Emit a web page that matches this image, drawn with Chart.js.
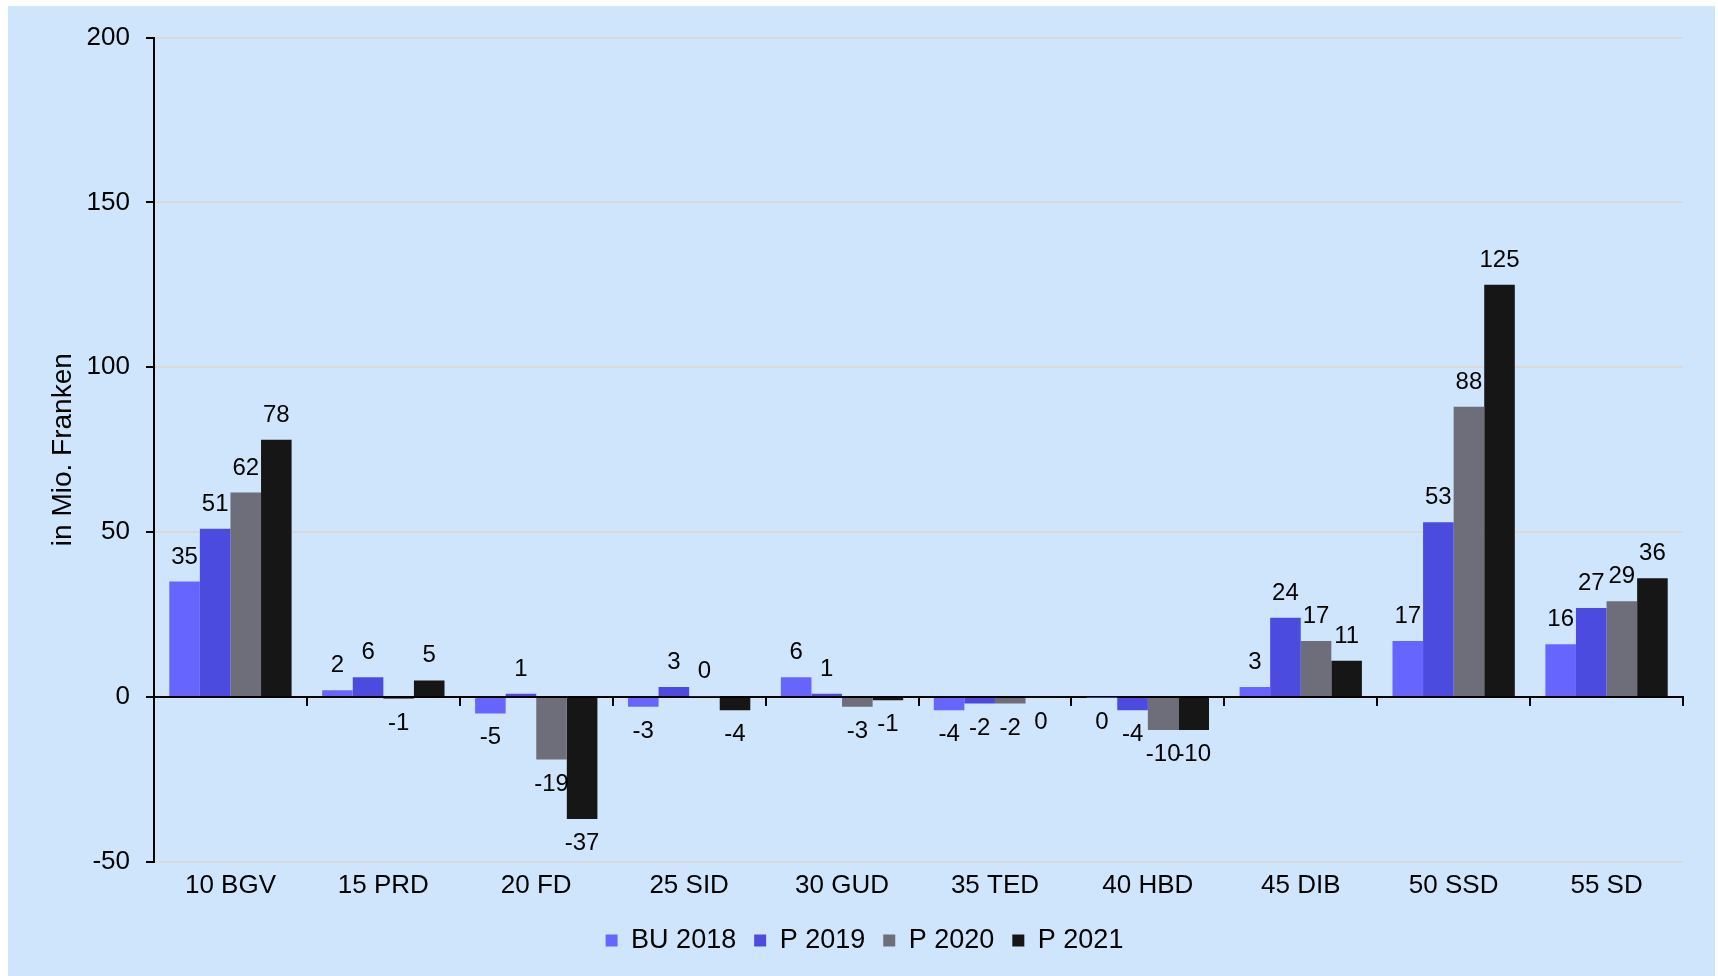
<!DOCTYPE html>
<html>
<head>
<meta charset="utf-8">
<script src="https://cdn.jsdelivr.net/npm/chart.js@4/dist/chart.umd.min.js"></script>
<style>
  html, body { margin: 0; padding: 0; background: #fff; }
  #wrap { position: absolute; left: 8px; top: 6px; width: 1707px; height: 970px; background: #cfe5fc; }
</style>
</head>
<body>
<div id="wrap"><canvas id="budgetChart"></canvas></div>
<script>
// departments on the x axis
const departments = ['10 BGV', '15 PRD', '20 FD', '25 SID', '30 GUD', '35 TED', '40 HBD', '45 DIB', '50 SSD', '55 SD'];

// values in Mio. Franken (tiny values keep the label side as in the picture)
const bu2018 = [35, 2, -5, -3, 6, -4, -0.2, 3, 17, 16];
const p2019  = [51, 6, 1, 3, 1, -2, -4, 24, 53, 27];
const p2020  = [62, -0.6, -19, 0.2, -3, -2, -10, 17, 88, 29];
const p2021  = [78, 5, -37, -4, -1, -0.2, -10, 11, 125, 36];

const yTicks = [-50, 0, 50, 100, 150, 200];

Chart.defaults.font.family = '"Liberation Sans", Arial, sans-serif';
Chart.defaults.color = '#000';

// draws the value above positive bars and below negative ones
const barValueLabels = {
  id: 'barValueLabels',
  afterDatasetsDraw(chart) {
    const ctx = chart.ctx;
    ctx.save();
    ctx.font = '24px "Liberation Sans", Arial, sans-serif';
    ctx.fillStyle = '#000';
    ctx.textAlign = 'center';
    ctx.textBaseline = 'alphabetic';
    chart.data.datasets.forEach((ds, i) => {
      const meta = chart.getDatasetMeta(i);
      meta.data.forEach((bar, j) => {
        const v = ds.data[j];
        const y = v > 0 ? bar.y - 18 : bar.y + 31;
        ctx.fillText(String(Math.round(v)), bar.x, y);
      });
    });
    ctx.restore();
  }
};

const ctx = document.getElementById('budgetChart').getContext('2d');
const chart = new Chart(ctx, {
  type: 'bar',
  data: {
    labels: departments,
    datasets: [
      { label: 'BU 2018', data: bu2018, backgroundColor: '#6666ff' },
      { label: 'P 2019', data: p2019, backgroundColor: '#4b4be0' },
      { label: 'P 2020', data: p2020, backgroundColor: '#6e6e7a' },
      { label: 'P 2021', data: p2021, backgroundColor: '#161616' }
    ]
  },
  options: {
    responsive: true,
    maintainAspectRatio: false,
    animation: false,
    layout: { padding: { top: 20, right: 32, bottom: 12, left: 38 } },
    datasets: { bar: { categoryPercentage: 0.8, barPercentage: 1.0 } },
    scales: {
      x: {
        offset: true,
        ticks: { font: { size: 26 }, color: '#000', padding: 8 },
        grid: { display: false, drawTicks: false },
        border: { display: false }
      },
      xZero: {
        type: 'category',
        position: { y: 0 },
        offset: true,
        ticks: { display: false },
        grid: { offset: true, drawOnChartArea: false, drawTicks: true, tickLength: 8, color: '#000', lineWidth: 2 },
        border: { color: '#000', width: 2 }
      },
      y: {
        min: -50,
        max: 200,
        afterBuildTicks(scale) { scale.ticks = yTicks.map(v => ({ value: v })); },
        ticks: { font: { size: 26 }, color: '#000', padding: 16 },
        grid: {
          color: c => c.tick && c.tick.value === 0 ? '#000' : '#d9d9d9',
          lineWidth: 2,
          tickColor: '#000',
          tickLength: 8
        },
        border: { color: '#000', width: 2 },
        title: { display: true, text: 'in Mio. Franken', font: { size: 28 }, color: '#000', padding: { top: 0, bottom: 0 } },
        afterFit(scale) { scale.width = 108; }
      }
    },
    plugins: {
      legend: {
        position: 'bottom',
        labels: { boxWidth: 12, boxHeight: 12, font: { size: 27 }, color: '#000', padding: 18 }
      },
      tooltip: { enabled: false }
    }
  },
  plugins: [barValueLabels]
});
</script>
</body>
</html>
